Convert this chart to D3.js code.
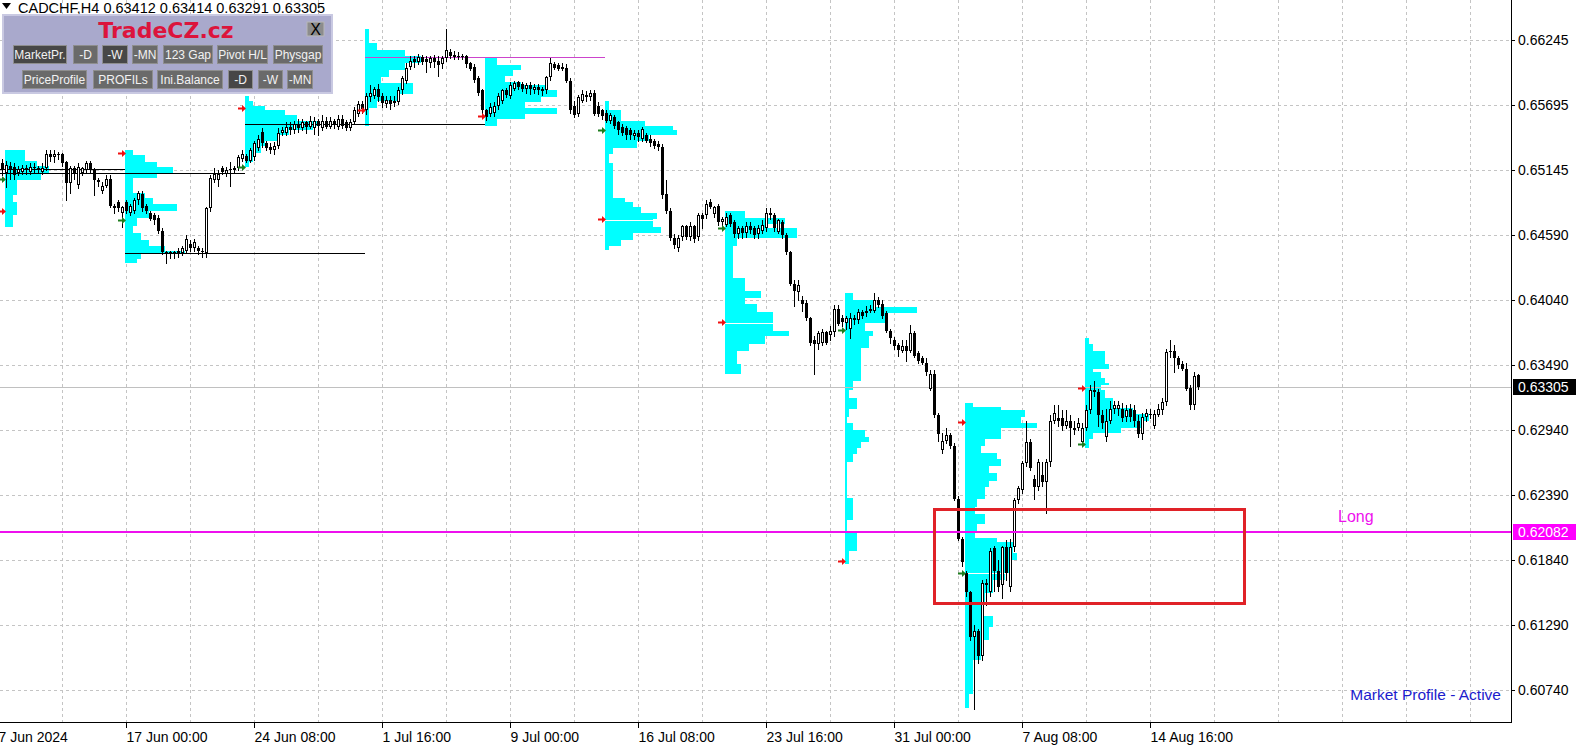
<!DOCTYPE html>
<html>
<head>
<meta charset="utf-8">
<title>CADCHF,H4 market profile</title>
<script src="https://d3js.org/d3.v7.min.js"></script>
<style>
  body { margin: 0; background: #ffffff; }
  svg { display: block; }
  .ax { font-family: "Liberation Sans", Arial, sans-serif; font-size: 14px; fill: #000; }
  .btn { font-family: "Liberation Sans", Arial, sans-serif; font-size: 12px; fill: #f2f2f2; }
</style>
</head>
<body>
<svg class="chart" width="1580" height="750"></svg>
<script>
// ---------- data (H4 bars) ----------
var opens = [
0.6520,0.6512,0.6518,0.6517,0.6512,0.6513,0.6516,0.6513,0.6517,0.6516,
0.6513,0.6516,0.6528,0.6525,0.6528,0.6528,0.6521,0.6503,0.6516,0.6502,
0.6512,0.6514,0.6520,0.6514,0.6506,0.6497,0.6501,0.6507,0.6484,0.6487,
0.6478,0.6487,0.6478,0.6480,0.6489,0.6494,0.6484,0.6478,0.6476,0.6474,
0.6463,0.6445,0.6443,0.6445,0.6444,0.6444,0.6446,0.6452,0.6448,0.6448,
0.6446,0.6444,0.6482,0.6506,0.6506,0.6516,0.6511,0.6514,0.6516,0.6516,
0.6524,0.6526,0.6522,0.6525,0.6533,0.6547,0.6537,0.6534,0.6531,0.6535,
0.6546,0.6546,0.6551,0.6548,0.6553,0.6550,0.6555,0.6551,
0.6550,0.6556,0.6550,0.6556,0.6551,0.6556,0.6551,0.6558,0.6555,0.6550,
0.6555,0.6562,0.6570,0.6565,0.6576,0.6577,0.6583,0.6577,0.6570,0.6574,
0.6571,0.6572,0.6582,0.6590,0.6602,0.6608,0.6606,0.6610,0.6608,0.6605,
0.6609,0.6607,0.6604,0.6609,0.6614,0.6612,0.6610,0.6611,0.6611,0.6605,
0.6602,0.6592,0.6582,0.6565,0.6562,0.6563,0.6569,0.6573,0.6582,0.6577,
0.6583,0.6589,0.6587,0.6583,0.6586,0.6582,0.6585,0.6583,0.6582,0.6593,
0.6604,0.6603,0.6600,0.6601,0.6590,0.6569,0.6562,0.6573,0.6578,0.6576,
0.6580,0.6569,0.6565,0.6563,0.6556,0.6559,0.6555,0.6551,0.6550,0.6548,
0.6543,0.6546,0.6541,0.6544,0.6541,0.6539,0.6536,0.6534,0.6494,0.6480,
0.6457,0.6448,0.6458,0.6467,0.6458,0.6467,0.6458,0.6476,0.6476,0.6487,
0.6477,0.6484,0.6470,0.6468,0.6476,0.6470,0.6460,0.6465,0.6461,0.6467,
0.6465,0.6460,0.6463,0.6465,0.6478,0.6476,0.6462,0.6470,0.6459,0.6445,
0.6418,0.6411,0.6404,0.6402,0.6389,0.6370,0.6367,0.6368,0.6377,0.6375,
0.6377,0.6397,0.6389,0.6385,0.6380,0.6389,0.6387,0.6394,
0.6393,0.6395,0.6395,0.6404,0.6401,0.6393,0.6378,0.6370,0.6366,0.6361,
0.6365,0.6361,0.6376,0.6359,0.6355,0.6351,0.6329,0.6342,0.6307,0.6277,
0.6285,0.6290,0.6281,0.6236,0.6202,0.6173,0.6157,0.6119,0.6124,0.6103,
0.6165,0.6157,
0.6194,0.6175,0.6163,0.6195,0.6161,0.6195,0.6235,0.6243,0.6266,0.6284,
0.6253,0.6246,0.6256,0.6250,0.6267,0.6302,0.6304,0.6304,0.6298,0.6302,
0.6294,0.6296,0.6284,0.6296,0.6311,0.6328,0.6326,0.6307,0.6288,0.6302,
0.6312,0.6312,0.6312,0.6305,0.6312,0.6311,0.6302,0.6291,0.6305,0.6308,
0.6298,0.6307,0.6311,0.6318,0.6360,0.6361,0.6355,0.6350,0.6346,0.6330,
0.6315,0.63412];

var highs = [
0.6524,0.6522,0.6521,0.6520,0.6518,0.6519,0.6519,0.6520,0.6520,0.6518,
0.6520,0.6531,0.6531,0.6531,0.6530,0.6529,0.6522,0.6518,0.6518,0.6520,
0.6517,0.6522,0.6522,0.6516,0.6508,0.6504,0.6510,0.6510,0.6486,0.6489,
0.6484,0.6489,0.6486,0.6491,0.6497,0.6497,0.6486,0.6480,0.6478,0.6476,
0.6465,0.6446,0.6446,0.6446,0.6448,0.6450,0.6459,0.6455,0.6456,0.6450,
0.6448,0.6483,0.6510,0.6516,0.6514,0.6518,0.6517,0.6521,0.6518,0.6527,
0.6531,0.6528,0.6533,0.6539,0.6544,0.6550,0.6539,0.6537,0.6538,0.6550,
0.6551,0.6555,0.6555,0.6556,0.6558,0.6558,0.6556,0.6560,
0.6559,0.6558,0.6561,0.6559,0.6559,0.6558,0.6561,0.6561,0.6557,0.6558,
0.6568,0.6573,0.6573,0.6580,0.6586,0.6585,0.6587,0.6580,0.6577,0.6577,
0.6577,0.6585,0.6594,0.6605,0.6611,0.6611,0.6613,0.6612,0.6611,0.6611,
0.6612,0.6611,0.6611,0.6634,0.6617,0.6615,0.6614,0.6613,0.6612,0.6606,
0.6604,0.6594,0.6583,0.6566,0.6571,0.6572,0.6580,0.6583,0.6584,0.6589,
0.6590,0.6590,0.6589,0.6588,0.6589,0.6587,0.6587,0.6585,0.6594,0.6609,
0.6606,0.6605,0.6605,0.6604,0.6592,0.6573,0.6578,0.6582,0.6581,0.6582,
0.6582,0.6572,0.6566,0.6565,0.6563,0.6561,0.6556,0.6553,0.6552,0.6550,
0.6548,0.6548,0.6551,0.6546,0.6544,0.6541,0.6539,0.6536,0.6506,0.6482,
0.6460,0.6459,0.6468,0.6468,0.6470,0.6468,0.6478,0.6478,0.6489,0.6490,
0.6484,0.6486,0.6475,0.6478,0.6478,0.6472,0.6467,0.6467,0.6470,0.6470,
0.6467,0.6468,0.6472,0.6482,0.6482,0.6478,0.6473,0.6472,0.6461,0.6446,
0.6421,0.6421,0.6408,0.6404,0.6390,0.6374,0.6378,0.6380,0.6378,0.6382,
0.6400,0.6400,0.6392,0.6391,0.6393,0.6392,0.6397,0.6396,
0.6399,0.6400,0.6410,0.6407,0.6404,0.6395,0.6380,0.6373,0.6368,0.6370,
0.6370,0.6383,0.6378,0.6361,0.6357,0.6355,0.6345,0.6345,0.6309,0.6292,
0.6296,0.6292,0.6283,0.6238,0.6204,0.6175,0.6158,0.6129,0.6126,0.6167,
0.6168,0.6194,
0.6196,0.6184,0.6196,0.6201,0.6202,0.6237,0.6247,0.6268,0.6302,0.6287,
0.6256,0.6270,0.6267,0.6270,0.6307,0.6315,0.6315,0.6311,0.6311,0.6307,
0.6302,0.6304,0.6300,0.6315,0.6332,0.6336,0.6329,0.6311,0.6312,0.6319,
0.6319,0.6319,0.6317,0.6315,0.6316,0.6315,0.6307,0.6309,0.6312,0.6312,
0.6311,0.6316,0.6321,0.6363,0.6370,0.6366,0.6357,0.6353,0.6351,0.6332,
0.6343,0.63414];

var lows = [
0.6510,0.6500,0.6507,0.6507,0.6510,0.6511,0.6511,0.6511,0.6512,0.6512,
0.6511,0.6514,0.6522,0.6521,0.6524,0.6518,0.6489,0.6495,0.6507,0.6499,
0.6510,0.6512,0.6512,0.6493,0.6501,0.6495,0.6500,0.6483,0.6478,0.6480,
0.6466,0.6478,0.6476,0.6478,0.6486,0.6480,0.6478,0.6472,0.6469,0.6461,
0.6443,0.6436,0.6440,0.6440,0.6441,0.6442,0.6445,0.6446,0.6446,0.6443,
0.6441,0.6441,0.6480,0.6504,0.6501,0.6511,0.6509,0.6501,0.6512,0.6514,
0.6522,0.6521,0.6521,0.6523,0.6531,0.6534,0.6531,0.6529,0.6528,0.6533,
0.6544,0.6544,0.6545,0.6546,0.6547,0.6548,0.6546,0.6550,
0.6545,0.6544,0.6548,0.6550,0.6550,0.6550,0.6549,0.6550,0.6548,0.6548,
0.6553,0.6560,0.6563,0.6562,0.6573,0.6575,0.6573,0.6568,0.6568,0.6566,
0.6569,0.6570,0.6579,0.6588,0.6600,0.6602,0.6604,0.6604,0.6597,0.6602,
0.6602,0.6594,0.6601,0.6607,0.6609,0.6608,0.6608,0.6608,0.6602,0.6599,
0.6589,0.6578,0.6563,0.6557,0.6560,0.6560,0.6566,0.6571,0.6576,0.6575,
0.6582,0.6583,0.6581,0.6580,0.6579,0.6580,0.6579,0.6578,0.6580,0.6591,
0.6600,0.6599,0.6599,0.6589,0.6563,0.6559,0.6560,0.6572,0.6573,0.6574,
0.6561,0.6560,0.6558,0.6555,0.6554,0.6550,0.6545,0.6544,0.6541,0.6541,
0.6541,0.6539,0.6539,0.6538,0.6535,0.6533,0.6531,0.6491,0.6478,0.6455,
0.6448,0.6446,0.6455,0.6456,0.6455,0.6453,0.6455,0.6465,0.6474,0.6482,
0.6475,0.6468,0.6468,0.6467,0.6467,0.6458,0.6457,0.6457,0.6458,0.6461,
0.6457,0.6457,0.6461,0.6463,0.6473,0.6463,0.6461,0.6457,0.6443,0.6417,
0.6399,0.6404,0.6395,0.6387,0.6366,0.6342,0.6363,0.6366,0.6367,0.6370,
0.6374,0.6383,0.6382,0.6380,0.6372,0.6384,0.6385,0.6389,
0.6391,0.6394,0.6394,0.6398,0.6389,0.6377,0.6368,0.6363,0.6357,0.6360,
0.6353,0.6360,0.6356,0.6351,0.6350,0.6341,0.6328,0.6305,0.6285,0.6275,
0.6283,0.6279,0.6235,0.6201,0.6179,0.6154,0.6116,0.6058,0.6097,0.6099,
0.6146,0.6154,
0.6158,0.6158,0.6152,0.6167,0.6158,0.6192,0.6232,0.6241,0.6264,0.6260,
0.6236,0.6243,0.6247,0.6224,0.6264,0.6300,0.6298,0.6294,0.6296,0.6281,
0.6291,0.6294,0.6281,0.6294,0.6309,0.6323,0.6298,0.6296,0.6285,0.6300,
0.6309,0.6307,0.6302,0.6302,0.6302,0.6298,0.6288,0.6287,0.6302,0.6304,
0.6296,0.6306,0.6308,0.6315,0.6356,0.6343,0.6347,0.6345,0.6328,0.6312,
0.6312,0.63291];

var closes = [
0.6514,0.6519,0.6514,0.6510,0.6515,0.6516,0.6514,0.6517,0.6516,0.6515,
0.6516,0.6528,0.6525,0.6528,0.6527,0.6520,0.6503,0.6516,0.6511,0.6517,
0.6516,0.6520,0.6514,0.6506,0.6504,0.6501,0.6507,0.6484,0.6482,0.6482,
0.6483,0.6480,0.6484,0.6489,0.6495,0.6482,0.6480,0.6473,0.6472,0.6463,
0.6445,0.6443,0.6445,0.6443,0.6446,0.6448,0.6456,0.6448,0.6453,0.6446,
0.6445,0.6482,0.6508,0.6511,0.6511,0.6513,0.6514,0.6515,0.6514,0.6525,
0.6528,0.6522,0.6531,0.6537,0.6541,0.6537,0.6533,0.6531,0.6535,0.6546,
0.6548,0.6551,0.6548,0.6553,0.6550,0.6555,0.6551,0.6556,
0.6556,0.6552,0.6556,0.6551,0.6556,0.6553,0.6558,0.6552,0.6550,0.6555,
0.6565,0.6570,0.6566,0.6577,0.6580,0.6583,0.6576,0.6571,0.6574,0.6570,
0.6573,0.6582,0.6592,0.6601,0.6607,0.6606,0.6610,0.6606,0.6606,0.6609,
0.6606,0.6603,0.6609,0.6616,0.6611,0.6610,0.6611,0.6610,0.6604,0.6600,
0.6591,0.6580,0.6565,0.6559,0.6568,0.6569,0.6577,0.6582,0.6578,0.6586,
0.6588,0.6585,0.6583,0.6586,0.6583,0.6585,0.6582,0.6581,0.6593,0.6605,
0.6601,0.6600,0.6602,0.6590,0.6565,0.6561,0.6576,0.6579,0.6576,0.6580,
0.6562,0.6562,0.6560,0.6556,0.6561,0.6552,0.6548,0.6546,0.6544,0.6544,
0.6546,0.6542,0.6549,0.6539,0.6537,0.6535,0.6534,0.6493,0.6480,0.6457,
0.6451,0.6457,0.6467,0.6458,0.6467,0.6456,0.6476,0.6473,0.6486,0.6483,
0.6483,0.6470,0.6473,0.6475,0.6469,0.6460,0.6465,0.6461,0.6467,0.6464,
0.6459,0.6465,0.6468,0.6478,0.6476,0.6465,0.6472,0.6459,0.6445,0.6418,
0.6412,0.6417,0.6401,0.6389,0.6368,0.6367,0.6376,0.6377,0.6368,0.6378,
0.6397,0.6384,0.6386,0.6389,0.6389,0.6387,0.6394,0.6391,
0.6395,0.6397,0.6404,0.6400,0.6391,0.6378,0.6372,0.6365,0.6362,0.6365,
0.6361,0.6376,0.6357,0.6353,0.6351,0.6343,0.6342,0.6307,0.6291,0.6285,
0.6290,0.6281,0.6236,0.6202,0.6182,0.6157,0.6119,0.6124,0.6103,0.6165,
0.6163,0.6192,
0.6175,0.6161,0.6195,0.6173,0.6195,0.6235,0.6245,0.6266,0.6284,0.6262,
0.6246,0.6267,0.6250,0.6267,0.6302,0.6309,0.6302,0.6298,0.6302,0.6296,
0.6296,0.6300,0.6296,0.6311,0.6328,0.6326,0.6307,0.6300,0.6302,0.6312,
0.6315,0.6315,0.6304,0.6311,0.6305,0.6302,0.6291,0.6305,0.6309,0.6307,
0.6308,0.6312,0.6318,0.6360,0.6361,0.6355,0.6349,0.6346,0.6329,0.6315,
0.6340,0.63305];

var timeTickBars = [-1, 31, 63, 95, 127, 159, 191, 223, 255, 287];
var timeTickLabels = ["7 Jun 2024", "17 Jun 00:00", "24 Jun 08:00", "1 Jul 16:00", "9 Jul 00:00",
                      "16 Jul 08:00", "23 Jul 16:00", "31 Jul 00:00", "7 Aug 08:00", "14 Aug 16:00"];
var priceTickLabels = ["0.66245", "0.65695", "0.65145", "0.64590", "0.64040", "0.63490",
                       "0.62940", "0.62390", "0.61840", "0.61290", "0.60740"];

// weekly market profiles: first bar of each week, rows of [level price, TPO count]
var profileStartBars = [1, 31, 61, 91, 121, 151, 181, 211, 241, 271];
var profile1 = [[0.6531,5],[0.6522,8],[0.6518,11],[0.6512,9],[0.6506,3],[0.6501,3],[0.6493,2],[0.6487,3],[0.6476,2],[0.6466,0]];
var profile2 = [[0.6531,2],[0.6527,5],[0.6521,8],[0.6517,12],[0.6512,8],[0.6508,2],[0.6501,2],[0.6495,5],[0.6491,7],[0.6486,13],
                [0.6480,6],[0.6474,3],[0.6467,2],[0.6461,4],[0.6455,6],[0.6450,10],[0.6446,15],[0.6443,4],[0.6439,3],[0.6436,0]];
var profile3 = [[0.6577,1],[0.6573,2],[0.6569,5],[0.6565,10],[0.6561,13],[0.6556,18],[0.6552,17],[0.6548,11],[0.6544,8],[0.6539,5],
                [0.6535,4],[0.6529,2],[0.6521,1],[0.6517,0]];
var profile4 = [[0.6634,1],[0.6622,3],[0.6616,10],[0.6611,14],[0.6609,14],[0.6605,10],[0.6599,6],[0.6593,4],[0.6588,12],[0.6584,12],
                [0.6579,8],[0.6573,3],[0.6567,1],[0.6556,1],[0.6552,0]];
var profile5 = [[0.6609,3],[0.6603,9],[0.6599,7],[0.6594,5],[0.6589,9],[0.6586,15],[0.6582,18],[0.6576,14],[0.6572,10],[0.6567,18],
                [0.6562,10],[0.6558,3],[0.6552,0]];
var profile6 = [[0.6573,1],[0.6565,4],[0.6556,10],[0.6552,17],[0.6548,18],[0.6544,11],[0.6539,8],[0.6533,2],[0.6528,1],[0.6520,2],
                [0.6508,2],[0.6491,5],[0.6487,7],[0.6483,9],[0.6478,13],[0.6473,12],[0.6470,12],[0.6466,14],[0.6461,7],[0.6455,4],
                [0.6450,1],[0.6447,0]];
var profile7 = [[0.6480,5],[0.6474,15],[0.6469,10],[0.6465,18],[0.6457,3],[0.6450,2],[0.6423,5],[0.6412,9],[0.6406,5],[0.6401,8],
                [0.6394,12],[0.6385,12],[0.6378,16],[0.6374,10],[0.6367,6],[0.6361,3],[0.6350,4],[0.6342,0]];
var profile8 = [[0.6410,2],[0.6404,7],[0.6398,18],[0.6393,10],[0.6385,5],[0.6378,7],[0.6374,6],[0.6364,4],[0.6356,4],[0.6336,2],
                [0.6328,1],[0.6321,3],[0.6312,1],[0.6305,0.5],[0.6300,2],[0.6294,5],[0.6288,6],[0.6284,4],[0.6279,3],[0.6274,2],
                [0.6267,0.5],[0.6237,2],[0.6226,2],[0.6218,0.5],[0.6207,3],[0.6198,3],[0.6192,1],[0.6181,0]];
var profile9 = [[0.6317,2],[0.6314,9],[0.6311,15],[0.6305,14],[0.6300,18],[0.6296,9],[0.6292,9],[0.6287,5],[0.6281,4],[0.6275,8],
                [0.6270,9],[0.6264,6],[0.6258,8],[0.6251,6],[0.6246,5],[0.6236,3],[0.6229,2.5],[0.6223,5],[0.6215,3],[0.6209,2.5],
                [0.6203,8],[0.6199,12],[0.6190,13],[0.6184,11],[0.6178,11],[0.6173,10],[0.6167,7],[0.6156,5],[0.6148,4.5],[0.6137,7],
                [0.6127,6],[0.6116,4],[0.6099,2],[0.6071,1],[0.6059,0]];
var profile10 = [[0.6372,1],[0.6367,2],[0.6361,5],[0.6350,6],[0.6346,2],[0.6343,4],[0.6338,5],[0.6334,6],[0.6332,4],[0.6328,5],
                 [0.6321,7],[0.6313,12],[0.6308,16],[0.6302,14],[0.6296,9],[0.6292,2],[0.6287,1],[0.6279,0]];
var redArrowPrices = [0.6480, 0.6529, 0.6567, 0.6565, 0.6560, 0.6473, 0.6386, 0.6183, 0.6301, 0.6330];
var greenArrowPrices = [0.6507, 0.6472, 0.6517, null, null, 0.6548, 0.6465, 0.6379, 0.6173, 0.6282];
var profileMarkPrices = [null, null, null, null, null, 0.6472, 0.6385, null, 0.6173, null];

// untouched POC lines carried to the right
var pocFromBars = [-1, -1, 31, 61, 91];
var pocToBars = [31, 61, 91, 121, 151];
var pocPrices = [0.6515, 0.6512, 0.6444, 0.6553, 0.6610];

var quote = ["0.63412", "0.63414", "0.63291", "0.63305"];
var lastPrice = 0.63305;
var longPrice = 0.62082;
var zoneBars = [233, 311.25];
var zonePrices = [0.6228, 0.6146];
var longLabelBar = 334.25;

// ---------- layout ----------
var plotRight = 1511, plotBottom = 722;
var svg = d3.select(".chart");

var x = d3.scaleLinear().domain([0, 300]).range([1, 1201]);   // left edge of a bar
var y = d3.scaleLinear().domain([0.6074, 0.66245]).range([690, 40]);
var barW = x(1) - x(0);

// grid
var grid = svg.append("g").attr("shape-rendering", "crispEdges")
  .attr("stroke", "#c4c4c4").attr("stroke-dasharray", "3,3");
priceTickLabels.forEach(function(t) {
  var yy = Math.round(y(+t)) + 0.5;
  grid.append("line").attr("x1", 0).attr("x2", plotRight).attr("y1", yy).attr("y2", yy);
});
d3.range(15, 400, 16).forEach(function(i) {
  var xx = Math.round(x(i)) + 1.5;
  if (xx < plotRight) grid.append("line").attr("x1", xx).attr("x2", xx).attr("y1", 0).attr("y2", plotBottom);
});

// profiles
var profiles = [profile1, profile2, profile3, profile4, profile5, profile6, profile7, profile8, profile9, profile10];
var prof = svg.append("g").attr("shape-rendering", "crispEdges");
profiles.forEach(function(rows, k) {
  var x0 = x(profileStartBars[k]);
  var maxW = 0;
  for (var r = 0; r < rows.length - 1; r++) {
    var top = Math.round(y(rows[r][0])), bot = Math.round(y(rows[r + 1][0]));
    var w = Math.max(1, Math.round(rows[r][1] * barW));
    maxW = Math.max(maxW, w);
    prof.append("rect").attr("x", x0).attr("y", top).attr("width", w).attr("height", Math.max(1, bot - top))
      .attr("fill", "#00ffff");
  }
  if (profileMarkPrices[k] !== null) {
    var ym = Math.round(y(profileMarkPrices[k])) + 0.5;
    prof.append("line").attr("x1", x0).attr("x2", x0 + maxW).attr("y1", ym).attr("y2", ym)
      .attr("stroke", "#ffffff").attr("stroke-width", 1);
  }
});

// POC lines
var lines = svg.append("g").attr("shape-rendering", "crispEdges");
pocPrices.forEach(function(p, k) {
  var yy = Math.round(y(p)) + 0.5;
  lines.append("line").attr("x1", Math.max(0, x(pocFromBars[k]))).attr("x2", x(pocToBars[k]))
    .attr("y1", yy).attr("y2", yy).attr("stroke", k === 4 ? "#cc44cc" : "#000000").attr("stroke-width", 1);
});

// last price line
var yLast = Math.round(y(lastPrice)) + 0.5;
lines.append("line").attr("x1", 0).attr("x2", plotRight).attr("y1", yLast).attr("y2", yLast)
  .attr("stroke", "#c0c0c0");

// candles
var candles = svg.append("g").attr("shape-rendering", "crispEdges");
closes.forEach(function(c, i) {
  var o = opens[i], h = highs[i], l = lows[i];
  var left = Math.round(x(i));
  var yh = Math.round(y(h)), yl = Math.round(y(l));
  var yt = Math.round(y(Math.max(o, c))), yb = Math.round(y(Math.min(o, c)));
  candles.append("rect").attr("x", left + 1).attr("y", yh).attr("width", 1)
    .attr("height", Math.max(1, yl - yh + 1)).attr("fill", "#000");
  if (c >= o && yb - yt >= 2) {
    candles.append("rect").attr("x", left + 0.5).attr("y", yt + 0.5).attr("width", 2)
      .attr("height", yb - yt - 1).attr("fill", "#fff").attr("stroke", "#000");
  } else {
    candles.append("rect").attr("x", left).attr("y", yt).attr("width", 3)
      .attr("height", Math.max(1, yb - yt)).attr("fill", "#000");
  }
});

// profile arrows
function arrow(tipX, yy, col) {
  var p = "M" + tipX + "," + yy + "L" + (tipX - 4) + "," + (yy - 3.5) + "L" + (tipX - 4) + "," + (yy - 1) +
          "L" + (tipX - 8) + "," + (yy - 1) + "L" + (tipX - 8) + "," + (yy + 1) + "L" + (tipX - 4) + "," + (yy + 1) +
          "L" + (tipX - 4) + "," + (yy + 3.5) + "Z";
  svg.append("path").attr("d", p).attr("fill", col);
}
profileStartBars.forEach(function(b, k) {
  var tip = x(b) + 1;
  arrow(tip, Math.round(y(redArrowPrices[k])) + 0.5, "#f01010");
  if (greenArrowPrices[k] !== null) arrow(tip, Math.round(y(greenArrowPrices[k])) + 0.5, "#1e7d1e");
});

// long line, zone and labels
var yLong = Math.round(y(longPrice));
svg.append("line").attr("x1", 0).attr("x2", plotRight).attr("y1", yLong).attr("y2", yLong)
  .attr("stroke", "#ee10ee").attr("stroke-width", 2).attr("shape-rendering", "crispEdges");
svg.append("rect")
  .attr("x", x(zoneBars[0]) + 1.5).attr("y", Math.round(y(zonePrices[0])) + 1.5)
  .attr("width", x(zoneBars[1]) - x(zoneBars[0]) - 3)
  .attr("height", Math.round(y(zonePrices[1])) - Math.round(y(zonePrices[0])) - 3)
  .attr("fill", "none").attr("stroke", "#e02228").attr("stroke-width", 3);
svg.append("text").attr("x", x(longLabelBar)).attr("y", yLong - 10)
  .attr("font-family", "Liberation Sans, Arial, sans-serif").attr("font-size", 16)
  .attr("fill", "#ee10ee").text("Long");
svg.append("text").attr("x", 1501).attr("y", 700).attr("text-anchor", "end")
  .attr("font-family", "Liberation Sans, Arial, sans-serif").attr("font-size", 15.5)
  .attr("fill", "#1c1ccc").text("Market Profile - Active");

// axes
var axis = svg.append("g").attr("shape-rendering", "crispEdges");
axis.append("rect").attr("x", plotRight + 1).attr("y", 0).attr("width", 1580 - plotRight).attr("height", 750).attr("fill", "#fff");
axis.append("rect").attr("x", 0).attr("y", plotBottom + 1).attr("width", 1580).attr("height", 750 - plotBottom).attr("fill", "#fff");
axis.append("line").attr("x1", plotRight + 0.5).attr("x2", plotRight + 0.5).attr("y1", 0).attr("y2", plotBottom + 1).attr("stroke", "#000");
axis.append("line").attr("x1", 0).attr("x2", plotRight + 1).attr("y1", plotBottom + 0.5).attr("y2", plotBottom + 0.5).attr("stroke", "#000");

priceTickLabels.forEach(function(t) {
  var yy = Math.round(y(+t));
  axis.append("line").attr("x1", plotRight).attr("x2", plotRight + 4).attr("y1", yy + 0.5).attr("y2", yy + 0.5).attr("stroke", "#000");
  svg.append("text").attr("class", "ax").attr("x", 1518).attr("y", yy + 5).text(t);
});
timeTickBars.forEach(function(b, k) {
  var xx = Math.round(x(b)) + 1.5;
  axis.append("line").attr("x1", xx).attr("x2", xx).attr("y1", plotBottom).attr("y2", plotBottom + 6).attr("stroke", "#000");
  svg.append("text").attr("class", "ax").attr("x", xx).attr("y", 742).text(timeTickLabels[k]);
});

// price badges
function badge(p, bg) {
  var yy = Math.round(y(p));
  svg.append("rect").attr("x", plotRight + 2).attr("y", yy - 8).attr("width", 63).attr("height", 16).attr("fill", bg);
  svg.append("text").attr("class", "ax").attr("x", 1518).attr("y", yy + 5).attr("fill", "#fff").style("fill", "#fff")
    .text(d3.format(".5f")(p));
}
badge(lastPrice, "#000000");
badge(longPrice, "#ff00ff");

// chart title
svg.append("path").attr("d", "M2,3L11,3L6.5,9Z").attr("fill", "#000");
svg.append("text").attr("class", "ax").attr("x", 18).attr("y", 13)
  .style("font-size", "14.5px")
  .text("CADCHF,H4  " + quote.join(" "));

// control panel
var panel = svg.append("g");
panel.append("rect").attr("x", 3).attr("y", 15).attr("width", 329).attr("height", 78)
  .attr("fill", "#a9a9cc").attr("stroke", "#c9c9e2").attr("stroke-width", 2);
panel.append("text").attr("x", 166).attr("y", 38).attr("text-anchor", "middle")
  .attr("font-family", "DejaVu Sans, sans-serif").attr("font-weight", "bold").attr("font-size", 22)
  .attr("fill", "#dc143c").text("TradeCZ.cz");
panel.append("rect").attr("x", 307).attr("y", 22).attr("width", 17).attr("height", 14)
  .attr("fill", "#8c8c8c").attr("stroke", "#b8b8b8");
panel.append("text").attr("x", 315.5).attr("y", 35).attr("text-anchor", "middle")
  .attr("font-family", "Liberation Sans, Arial, sans-serif").attr("font-size", 16).attr("fill", "#000").text("X");

var buttons = [
  {t: "MarketPr.", x: 13, w: 53, r: 0, on: true}, {t: "-D", x: 73, w: 24, r: 0}, {t: "-W", x: 102, w: 25, r: 0, on: true},
  {t: "-MN", x: 132, w: 25, r: 0}, {t: "123 Gap", x: 163, w: 49, r: 0}, {t: "Pivot H/L", x: 217, w: 50, r: 0},
  {t: "Physgap", x: 273, w: 49, r: 0},
  {t: "PriceProfile", x: 22, w: 64, r: 1}, {t: "PROFILs", x: 93, w: 59, r: 1}, {t: "Ini.Balance", x: 157, w: 65, r: 1},
  {t: "-D", x: 228, w: 24, r: 1, on: true}, {t: "-W", x: 258, w: 24, r: 1}, {t: "-MN", x: 287, w: 25, r: 1}
];
buttons.forEach(function(b) {
  var by = b.r === 0 ? 45 : 70;
  panel.append("rect").attr("x", b.x + 0.5).attr("y", by + 0.5).attr("width", b.w).attr("height", 18)
    .attr("fill", b.on ? "#474747" : "#6a6a6a").attr("stroke", "#8e8e8e").attr("shape-rendering", "crispEdges");
  panel.append("text").attr("class", "btn").attr("x", b.x + b.w / 2 + 0.5).attr("y", by + 14)
    .attr("text-anchor", "middle").text(b.t);
});
</script>
</body>
</html>
